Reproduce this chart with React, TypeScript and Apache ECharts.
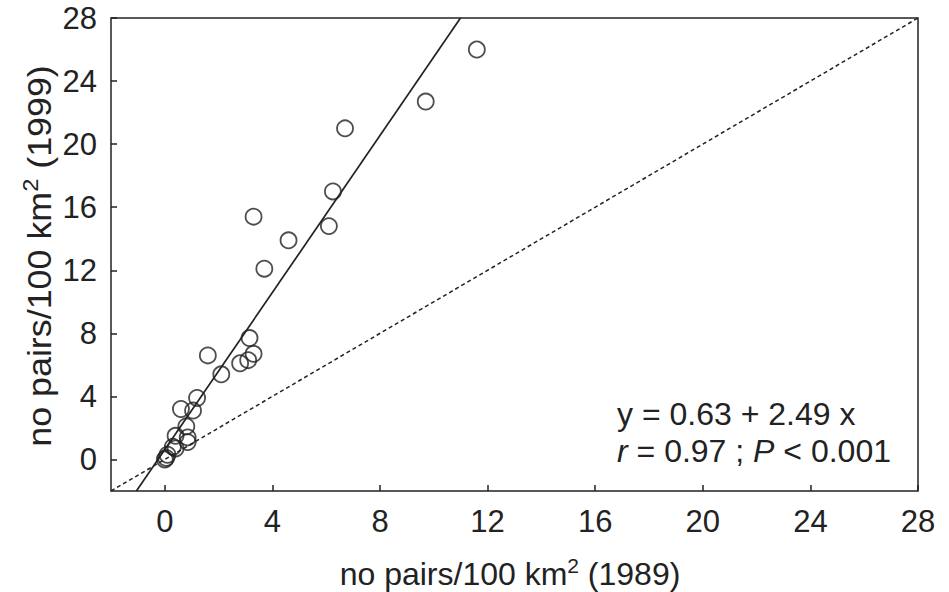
import React, { useEffect, useRef } from "react";
import * as echarts from "echarts";

const x1989 = [11.6, 9.7, 6.7, 6.25, 6.1, 4.6, 3.3, 3.7, 3.15, 3.3, 3.1, 2.8, 1.6, 2.1, 1.2, 1.05, 0.6, 0.8, 0.4, 0.85, 0.85, 0.4, 0.05, 0.0, 0.1, 0.3];
const y1999 = [26.0, 22.7, 21.0, 17.0, 14.8, 13.9, 15.4, 12.1, 7.7, 6.7, 6.3, 6.1, 6.6, 5.4, 3.9, 3.1, 3.2, 2.1, 1.5, 1.1, 1.4, 0.7, 0.1, 0.0, 0.3, 0.8];
const tickValues = [0, 4, 8, 12, 16, 20, 24, 28];
const regIntercept = 0.63;
const regSlope = 2.49;
const axisMin = -2;
const axisMax = 28;

const FONT = "'Liberation Sans', Arial, Helvetica, sans-serif";
const INK = "#222";

export default function App() {
  const ref = useRef<HTMLDivElement>(null);
  useEffect(() => {
    if (!ref.current) return;
    const chart = echarts.init(ref.current, undefined, { renderer: "svg" });
    const points = x1989.map((x, i) => [x, y1999[i]]);
    const regLine = [
      [(axisMin - regIntercept) / regSlope, axisMin],
      [(axisMax - regIntercept) / regSlope, axisMax],
    ];
    const identity = [
      [axisMin, axisMin],
      [axisMax, axisMax],
    ];
    const axisCommon = {
      type: "value" as const,
      min: axisMin,
      max: axisMax,
      splitLine: { show: false },
      axisLine: { show: false, onZero: false },
      axisTick: { show: true, inside: true, length: 6, customValues: tickValues, lineStyle: { color: INK, width: 1.5 } },
      axisLabel: { customValues: tickValues, color: INK, fontSize: 31, fontFamily: FONT },
    };
    const titleRich = {
      a: { fontSize: 32, fontFamily: FONT, fill: INK, color: INK },
      s: { fontSize: 21, fontFamily: FONT, fill: INK, color: INK, padding: [0, 0, 18, 0] },
    };
    chart.setOption({
      animation: false,
      backgroundColor: "#fff",
      grid: { left: 111, right: 31, top: 18, bottom: 101, show: true, borderColor: INK, borderWidth: 1.5, backgroundColor: "transparent" },
      xAxis: { ...axisCommon, axisLabel: { ...axisCommon.axisLabel, margin: 15 } },
      yAxis: { ...axisCommon, axisLabel: { ...axisCommon.axisLabel, margin: 14 } },
      series: [
        {
          type: "line",
          data: identity,
          showSymbol: false,
          symbol: "none",
          lineStyle: { color: INK, width: 1.5, type: [4, 3] },
          z: 1,
        },
        {
          type: "line",
          data: regLine,
          showSymbol: false,
          symbol: "none",
          lineStyle: { color: INK, width: 1.7 },
          z: 2,
        },
        {
          type: "scatter",
          data: points,
          symbol: "circle",
          symbolSize: 16,
          itemStyle: { color: "rgba(0,0,0,0)", borderColor: INK, borderWidth: 1.8 },
          z: 3,
        },
      ],
      graphic: [
        {
          type: "text",
          x: 510,
          y: 574,
          style: {
            text: "{a|no pairs/100 km}{s|2}{a| (1989)}",
            align: "center",
            verticalAlign: "middle",
            fill: INK,
            rich: titleRich,
          },
        },
        {
          type: "text",
          x: 40,
          y: 256,
          rotation: Math.PI / 2,
          scaleX: 1.12,
          scaleY: 1.02,
          style: {
            text: "{a|no pairs/100 km}{s|2}{a| (1999)}",
            align: "center",
            verticalAlign: "middle",
            fill: INK,
            rich: titleRich,
          },
        },
        {
          type: "text",
          x: 617,
          y: 414,
          style: {
            text: "y = 0.63 + 2.49 x",
            align: "left",
            verticalAlign: "middle",
            fill: INK,
            fontSize: 32,
            fontFamily: FONT,
          },
        },
        {
          type: "text",
          x: 617,
          y: 451,
          style: {
            text: "{i|r}{n| = 0.97 ; }{i|P}{n| < 0.001}",
            align: "left",
            verticalAlign: "middle",
            fill: INK,
            rich: {
              i: { fontSize: 32, fontFamily: FONT, fontStyle: "italic", fill: INK, color: INK },
              n: { fontSize: 32, fontFamily: FONT, fill: INK, color: INK },
            },
          },
        },
      ],
    });
    return () => chart.dispose();
  }, []);
  return <div ref={ref} style={{ position: "fixed", left: 0, top: 0, width: 949, height: 592 }} />;
}
